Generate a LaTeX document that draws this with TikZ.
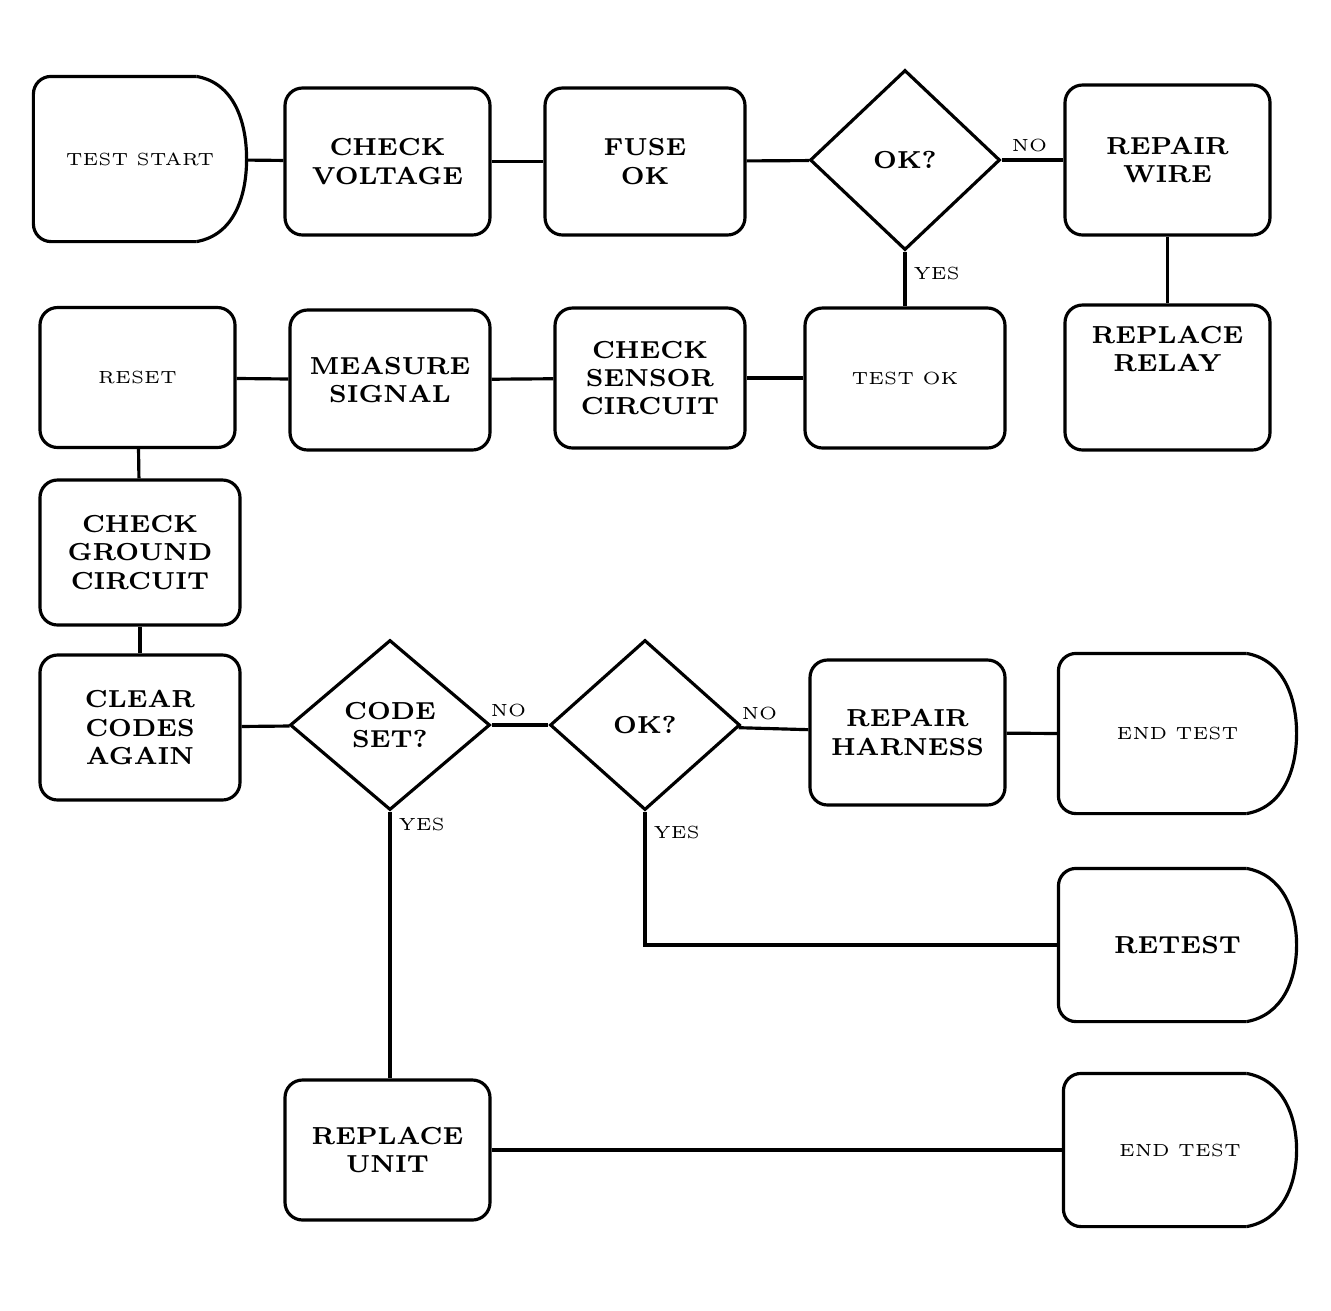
\documentclass[tikz,border=0pt]{standalone}
\usetikzlibrary{shapes.geometric}
\tikzset{
  stepbox/.style={draw,rounded corners=5pt,align=center,font=\scriptsize\bfseries,inner sep=2pt},
  query/.style={draw,diamond,inner sep=0pt,align=center,font=\scriptsize\bfseries},
  offpage/.style={align=center,font=\tiny,inner sep=2pt},
  answer/.style={font=\tiny,inner sep=2pt}
}
\begin{document}
\begin{tikzpicture}[line width=0.9pt]
        \useasboundingbox (0,0) rectangle (13.31,-13.10);

        \node[offpage,minimum width=2.1cm,minimum height=1.62cm]  (A) at (1.4,-1.59)   {TEST START};
        \node[stepbox,minimum width=2.05cm,minimum height=1.47cm] (B) at (3.875,-1.615) {CHECK\\VOLTAGE};
        \node[stepbox,minimum width=2.0cm,minimum height=1.47cm]  (C) at (6.45,-1.615)  {FUSE\\OK};
        \node[query,minimum width=1.9cm,minimum height=1.8cm]     (D) at (9.05,-1.6)    {OK?};
        \node[stepbox,minimum width=2.05cm,minimum height=1.5cm]  (E) at (11.675,-1.6)  {REPAIR\\WIRE};

        \node[stepbox,font=\tiny,minimum width=1.95cm,minimum height=1.4cm] (G) at (1.375,-3.775) {RESET};
        \node[stepbox,minimum width=2.0cm,minimum height=1.4cm]   (H) at (3.9,-3.8)     {MEASURE\\SIGNAL};
        \node[stepbox,minimum width=1.9cm,minimum height=1.4cm]   (I) at (6.5,-3.78)    {CHECK\\SENSOR\\CIRCUIT};
        \node[stepbox,font=\tiny,minimum width=2.0cm,minimum height=1.4cm]  (F) at (9.05,-3.78) {TEST OK};
        \node[stepbox,minimum width=2.05cm,minimum height=1.45cm] (J) at (11.675,-3.775) {REPLACE\\RELAY\\[3mm]\mbox{}};

        \node[stepbox,minimum width=2.0cm,minimum height=1.45cm]  (K) at (1.4,-5.525)   {CHECK\\GROUND\\CIRCUIT};

        \node[stepbox,minimum width=2.0cm,minimum height=1.45cm]  (L) at (1.4,-7.275)   {CLEAR\\CODES\\AGAIN};
        \node[query,minimum width=2.0cm,minimum height=1.7cm]     (M) at (3.9,-7.25)    {CODE\\SET?};
        \node[query,minimum width=1.9cm,minimum height=1.7cm]     (N) at (6.45,-7.25)   {OK?};
        \node[stepbox,minimum width=1.95cm,minimum height=1.45cm] (O) at (9.075,-7.325) {REPAIR\\HARNESS};
        \node[offpage,minimum width=2.35cm,minimum height=1.57cm] (P) at (11.775,-7.335) {END TEST};

        \node[offpage,font=\scriptsize\bfseries,minimum width=2.35cm,minimum height=1.5cm] (R) at (11.775,-9.45) {RETEST};

        \node[stepbox,minimum width=2.05cm,minimum height=1.4cm]  (Q) at (3.875,-11.5)  {REPLACE\\UNIT};
        \node[offpage,minimum width=2.3cm,minimum height=1.5cm]   (S) at (11.8,-11.5)   {END TEST};

        % go-to outlines
        \foreach \n in {A,P,R,S}
          \draw[rounded corners=5pt] ([xshift=-5mm]\n.north east) -- (\n.north west) -- (\n.south west) -- ([xshift=-5mm]\n.south east);
        \foreach \n in {A,P,R,S}
          \draw ([xshift=-5mm]\n.north east) to[out=-10,in=90] (\n.east) to[out=-90,in=10] ([xshift=-5mm]\n.south east);

        \path [-] (A) edge (B);
        \path [-] (B) edge (C);
        \path [-] (C) edge (D);
        \path [-] (D) edge node[answer,above,pos=0.45] {NO} (E);
        \path [-] (D) edge node[answer,right,pos=0.4] {YES} (F);
        \path [-] (E) edge (J);

        \path [-] (F) edge (I);
        \path [-] (I) edge (H);
        \path [-] (H) edge (G);
        \path [-] (G) edge (K);
        \path [-] (K) edge (L);

        \path [-] (L) edge (M);
        \path [-] (M) edge node[answer,above,pos=0.3] {NO} (N);
        \path [-] (N) edge node[answer,above,pos=0.3] {NO} (O);
        \path [-] (O) edge (P.west);
        \draw (M.south) -- node[answer,right,pos=0.05] {YES} (M.south |- Q.north);
        \draw (N.south) |- node[answer,right,pos=0.08] {YES} (R.west);
        \path [-] (Q) edge (S.west);
\end{tikzpicture}
\end{document}
